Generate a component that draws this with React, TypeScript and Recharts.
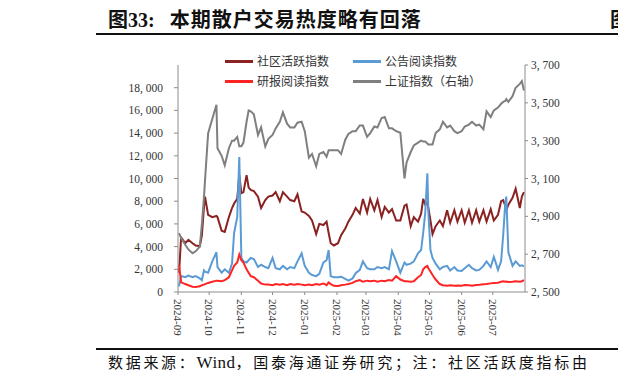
import { LineChart, Line, XAxis, YAxis } from 'recharts'

// 日期（周日/周三取样，关键日另加）
const dates = [
  '2024-09-02', '2024-09-04', '2024-09-08', '2024-09-11', '2024-09-15', '2024-09-18', '2024-09-22', '2024-09-24',
  '2024-09-26', '2024-09-27', '2024-09-30', '2024-10-04', '2024-10-08', '2024-10-09', '2024-10-13', '2024-10-16',
  '2024-10-20', '2024-10-23', '2024-10-25', '2024-10-28', '2024-10-30', '2024-11-01', '2024-11-03', '2024-11-06',
  '2024-11-08', '2024-11-10', '2024-11-13', '2024-11-17', '2024-11-20', '2024-11-24', '2024-11-27', '2024-12-01',
  '2024-12-04', '2024-12-08', '2024-12-11', '2024-12-15', '2024-12-18', '2024-12-22', '2024-12-25', '2024-12-29',
  '2025-01-01', '2025-01-05', '2025-01-08', '2025-01-12', '2025-01-15', '2025-01-19', '2025-01-22', '2025-01-24',
  '2025-01-26', '2025-01-29', '2025-02-02', '2025-02-05', '2025-02-09', '2025-02-12', '2025-02-16', '2025-02-19',
  '2025-02-23', '2025-02-26', '2025-03-02', '2025-03-05', '2025-03-09', '2025-03-12', '2025-03-16', '2025-03-19',
  '2025-03-23', '2025-03-26', '2025-03-30', '2025-04-03', '2025-04-07', '2025-04-09', '2025-04-13', '2025-04-16',
  '2025-04-20', '2025-04-23', '2025-04-25', '2025-04-27', '2025-04-29', '2025-04-30', '2025-05-02', '2025-05-04',
  '2025-05-07', '2025-05-11', '2025-05-14', '2025-05-18', '2025-05-21', '2025-05-25', '2025-05-28', '2025-06-01',
  '2025-06-04', '2025-06-08', '2025-06-11', '2025-06-15', '2025-06-18', '2025-06-22', '2025-06-25', '2025-06-29',
  '2025-07-02', '2025-07-06', '2025-07-09', '2025-07-11', '2025-07-13', '2025-07-14', '2025-07-16', '2025-07-20',
  '2025-07-23', '2025-07-27', '2025-07-29', '2025-07-31',
]

// 社区活跃指数
const communityIndex = [
  1700, 4800, 4300, 4600, 4300, 4100, 4050, 5000,
  7500, 8400, 6800, 6600, 6700, 6600, 5400, 5300,
  6600, 7400, 7800, 8200, 10300, 8700, 8800, 10300,
  9200, 9000, 8900, 8400, 7400, 8100, 8400, 8500,
  8800, 8000, 8800, 8400, 8100, 8000, 8600, 7100,
  7000, 6700, 6300, 5100, 6000, 5900, 6200, 5200,
  4300, 4100, 4300, 5000, 5600, 6200, 6800, 7400,
  6900, 8200, 7000, 8200, 7200, 8100, 6600, 7500,
  7000, 7300, 6300, 6300, 7600, 7700, 5800, 6600,
  6200, 6900, 8200, 7700, 7900, 7400, 6300, 5100,
  5800, 6300, 5800, 7200, 6100, 7200, 6200, 7200,
  6100, 7200, 6100, 7200, 6200, 7200, 6200, 7300,
  6300, 6800, 8000, 8100, 7600, 7200, 7700, 8300,
  9100, 7400, 8400, 8800,
]

// 公告阅读指数
const noticeReading = [
  500, 1400, 1300, 1450, 1300, 1400, 1200, 1050,
  1900, 1800, 1700, 2700, 3500, 2200, 1700, 2000,
  1700, 2500, 5200, 6600, 11900, 3000, 2700, 2600,
  2800, 3000, 2900, 2200, 2400, 2200, 2100, 3000,
  2100, 2000, 2300, 2000, 2200, 2100, 2700, 3400,
  2300, 1700, 1500, 1400, 1600, 2600, 2800, 3700,
  1400, 1300, 1300, 1350, 1150, 1000, 1200, 1650,
  1950, 2700, 2100, 2000, 2000, 2200, 2100, 2200,
  2000, 3600, 2700, 1700, 2600, 2400, 2500, 2700,
  3400, 3700, 5200, 7000, 10460, 7000, 3700, 3000,
  2500, 2000, 2200, 2300, 1900, 2200, 1900, 1850,
  2100, 2400, 2100, 1900, 1950, 2300, 2700, 2200,
  3100, 1950, 2700, 5000, 7800, 8400, 3500, 2300,
  2700, 2300, 2350, 2250,
]

// 研报阅读指数
const reportReading = [
  2400, 850, 700, 600, 470, 450, 500, 600,
  650, 700, 800, 900, 1000, 1000, 950, 1050,
  1300, 1900, 2300, 2600, 3300, 2800, 2600, 2000,
  1700, 1400, 1300, 1000, 750, 650, 650, 600,
  700, 650, 700, 600, 700, 650, 700, 650,
  600, 650, 600, 700, 650, 750, 600, 850,
  700, 550, 530, 600, 650, 700, 800, 950,
  1050, 900, 1000, 950, 1000, 900, 1000, 950,
  1050, 1000, 1400, 1100, 950, 950, 900, 950,
  1300, 1500, 2000, 2200, 2300, 2100, 1800, 1500,
  1100, 700, 600, 560, 600, 560, 580, 560,
  620, 600, 560, 620, 640, 680, 700, 760,
  800, 820, 900, 940, 900, 920, 880, 900,
  950, 900, 950, 1050,
]

// 上证指数（右轴）
const shIndex = [
  2811, 2785, 2750, 2725, 2705, 2715, 2740, 2860,
  3000, 3090, 3340, 3415, 3490, 3260, 3220, 3170,
  3260, 3300, 3300, 3320, 3270, 3270, 3290, 3400,
  3460, 3455, 3440, 3330, 3370, 3270, 3310, 3330,
  3365, 3400, 3450, 3390, 3370, 3370, 3395, 3400,
  3350, 3210, 3230, 3165, 3230, 3240, 3215, 3250,
  3250, 3250, 3250, 3230, 3305, 3335, 3350, 3350,
  3380, 3380, 3320, 3340, 3375, 3370, 3420, 3425,
  3365, 3365, 3350, 3342, 3100, 3185, 3240, 3275,
  3290, 3300, 3295, 3295, 3285, 3280, 3280, 3280,
  3340, 3360, 3400, 3370, 3380, 3350, 3340, 3350,
  3375, 3385, 3400, 3380, 3385, 3360, 3455, 3425,
  3460, 3475, 3495, 3505, 3510, 3520, 3505, 3535,
  3580, 3600, 3615, 3565,
]

const monthTicks = [
  '2024-09-01', '2024-10-01', '2024-11-01', '2024-12-01', '2025-01-01', '2025-02-01',
  '2025-03-01', '2025-04-01', '2025-05-01', '2025-06-01', '2025-07-01',
]
const leftTicks = [0, 2000, 4000, 6000, 8000, 10000, 12000, 14000, 16000, 18000]
const rightTicks = [2500, 2700, 2900, 3100, 3300, 3500, 3700]

const legendItems = [
  { name: '社区活跃指数', color: '#8B2222' },
  { name: '公告阅读指数', color: '#5B9BD5' },
  { name: '研报阅读指数', color: '#FF2424' },
  { name: '上证指数（右轴）', color: '#7F7F7F' },
]

const toTime = (d: string) => Date.parse(d + 'T00:00:00Z')

const data = dates.map((d, i) => ({
  t: toTime(d),
  community: communityIndex[i],
  notice: noticeReading[i],
  report: reportReading[i],
  sh: shIndex[i],
}))

const serif = "'Liberation Serif', 'Noto Sans CJK SC', serif"
const cjk = "'Liberation Serif', 'Noto Sans CJK SC', sans-serif"

function fmtNum(v: number) {
  if (v < 1000) return String(v)
  return `${Math.floor(v / 1000)}, ${String(v % 1000).padStart(3, '0')}`
}

function XTick({ x, y, payload }: { x?: number; y?: number; payload?: { value: number } }) {
  if (x === undefined || y === undefined || !payload) return null
  const d = new Date(payload.value)
  const label = `${d.getUTCFullYear()}-${String(d.getUTCMonth() + 1).padStart(2, '0')}`
  return (
    <text
      x={x}
      y={y}
      transform={`rotate(90 ${x} ${y})`}
      textAnchor="start"
      dominantBaseline="central"
      fontFamily={serif}
      fontSize={11}
      fill="#333"
    >
      {label}
    </text>
  )
}

export default function App() {
  return (
    <div style={{ position: 'absolute', left: 0, top: 0, width: 618, height: 385, background: '#fff', overflow: 'hidden' }}>
      <div style={{ position: 'absolute', left: 108, top: 10, fontFamily: cjk, fontSize: 20, lineHeight: '20px', fontWeight: 700, color: '#111', whiteSpace: 'nowrap' }}>
        图33:<span style={{ marginLeft: 15, letterSpacing: 1 }}>本期散户交易热度略有回落</span>
      </div>
      <div style={{ position: 'absolute', left: 610, top: 10, fontFamily: cjk, fontSize: 20, lineHeight: '20px', fontWeight: 700, color: '#111' }}>图</div>
      <div style={{ position: 'absolute', left: 96, top: 33, width: 522, height: 1.5, background: '#111' }} />

      <LineChart width={618} height={385} data={data} margin={{ top: 65, right: 33, bottom: 43, left: 118 }}>
        <XAxis
          type="number"
          dataKey="t"
          domain={[toTime('2024-09-01'), toTime('2025-08-01')]}
          ticks={monthTicks.map(toTime)}
          interval={0}
          height={50}
          tickSize={3}
          tickMargin={4}
          axisLine={{ stroke: '#8c8c8c' }}
          tickLine={{ stroke: '#8c8c8c' }}
          tick={(p: unknown) => <XTick {...(p as { x?: number; y?: number; payload?: { value: number } })} />}
        />
        <YAxis
          yAxisId="left"
          domain={[0, 20000]}
          ticks={leftTicks}
          interval={0}
          width={60}
          tickSize={4}
          tickMargin={11}
          tickFormatter={fmtNum}
          axisLine={{ stroke: '#8c8c8c' }}
          tickLine={{ stroke: '#8c8c8c' }}
          tick={{ fontFamily: serif, fontSize: 11.5, fill: '#333' }}
        />
        <YAxis
          yAxisId="right"
          orientation="right"
          domain={[2500, 3700]}
          ticks={rightTicks}
          interval={0}
          width={60}
          tickSize={3}
          tickMargin={3}
          tickFormatter={fmtNum}
          axisLine={{ stroke: '#8c8c8c' }}
          tickLine={{ stroke: '#8c8c8c' }}
          tick={{ fontFamily: serif, fontSize: 11.5, fill: '#333' }}
        />
        <Line yAxisId="left" dataKey="community" stroke="#8B2222" strokeWidth={2} dot={false} isAnimationActive={false} />
        <Line yAxisId="left" dataKey="notice" stroke="#5B9BD5" strokeWidth={2} dot={false} isAnimationActive={false} />
        <Line yAxisId="left" dataKey="report" stroke="#FF2424" strokeWidth={2} dot={false} isAnimationActive={false} />
        <Line yAxisId="right" dataKey="sh" stroke="#7F7F7F" strokeWidth={2} dot={false} isAnimationActive={false} />
      </LineChart>

      {legendItems.map((item, i) => (
        <div
          key={item.name}
          style={{
            position: 'absolute',
            left: i % 2 === 0 ? 225 : 353,
            top: i < 2 ? 53 : 73,
            height: 16,
            display: 'flex',
            alignItems: 'center',
            whiteSpace: 'nowrap',
          }}
        >
          <span style={{ display: 'inline-block', width: 28, height: 3, background: item.color }} />
          <span style={{ marginLeft: 4, fontFamily: cjk, fontSize: 12, color: '#333' }}>{item.name}</span>
        </div>
      ))}

      <div style={{ position: 'absolute', left: 96, top: 348, width: 522, height: 1.5, background: '#111' }} />
      <div style={{ position: 'absolute', left: 108, top: 355, fontFamily: cjk, fontSize: 15, lineHeight: '16px', letterSpacing: 2.7, color: '#111', whiteSpace: 'nowrap' }}>
        数据来源：<span style={{ fontSize: 17, letterSpacing: 0.5 }}>Wind</span>，国泰海通证券研究；注：社区活跃度指标由
      </div>
    </div>
  )
}
